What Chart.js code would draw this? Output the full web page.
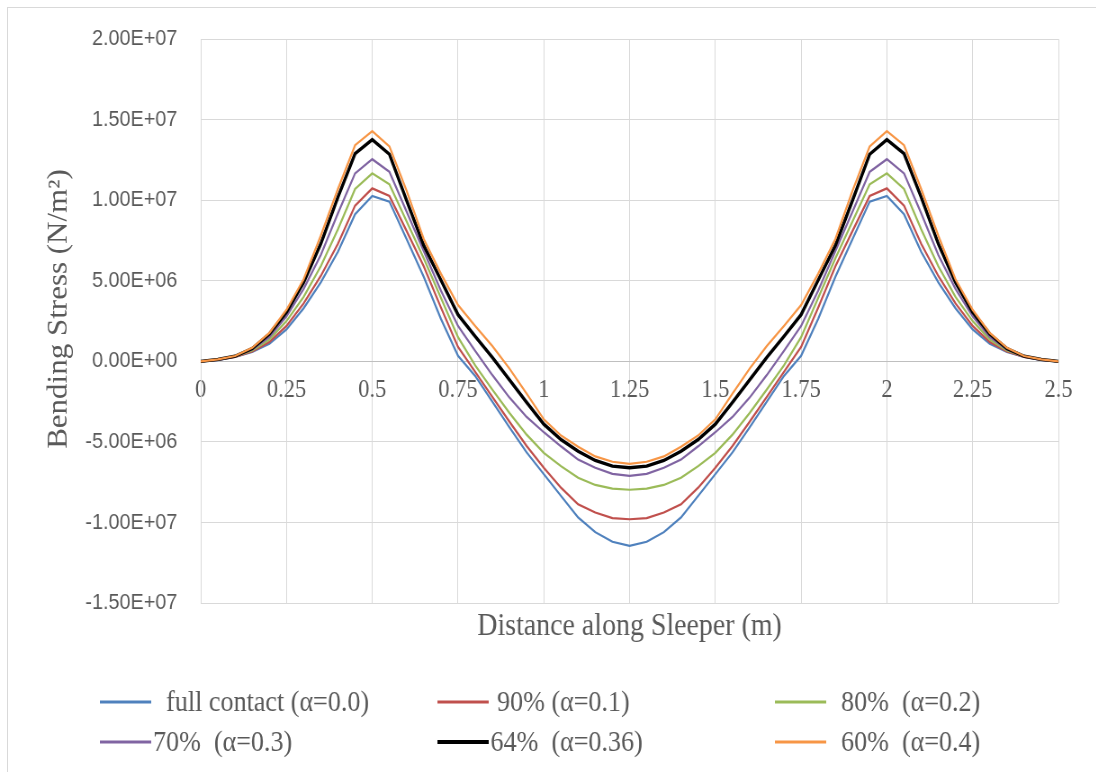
<!DOCTYPE html>
<html>
<head>
<meta charset="utf-8">
<title>Bending stress along sleeper</title>
<script src="https://cdn.jsdelivr.net/npm/chart.js@4.4.1/dist/chart.umd.min.js"></script>
<style>
  html, body { margin:0; padding:0; background:#fff; overflow:hidden; width:1096px; height:772px; }
  .frame { position:absolute; left:7px; top:7px; width:1200px; height:900px; border:1px solid #D9D9D9; box-sizing:border-box; }
  /* the source picture is squeezed a little horizontally, so is the canvas */
  #chart { position:absolute; left:0; top:0; transform:scaleX(0.9); transform-origin:0 0; }
</style>
</head>
<body>
<div class="frame"></div>
<canvas id="chart" width="1218" height="772"></canvas>
<script>
(function(){
  // distance along sleeper (m)
  const distance = [0, 0.05, 0.1, 0.15, 0.2, 0.25, 0.3, 0.35, 0.4, 0.45, 0.5, 0.55, 0.6, 0.65, 0.7, 0.75, 0.8, 0.85, 0.9, 0.95,
    1, 1.05, 1.1, 1.15, 1.2, 1.25, 1.3, 1.35, 1.4, 1.45, 1.5, 1.55, 1.6, 1.65, 1.7, 1.75, 1.8, 1.85, 1.9, 1.95,
    2, 2.05, 2.1, 2.15, 2.2, 2.25, 2.3, 2.35, 2.4, 2.45, 2.5];

  // bending stress, in units of 1e6 N/m2
  const fullContact = [0, 0.08, 0.27, 0.58, 1.09, 1.98, 3.3, 4.9, 6.8, 9.14, 10.27, 9.92, 7.6, 5.25, 2.65, 0.35, -0.9, -2.5, -4.1, -5.65,
    -7.0, -8.35, -9.69, -10.6, -11.2, -11.45, -11.2, -10.6, -9.69, -8.35, -7.0, -5.65, -4.1, -2.5, -0.9, 0.35, 2.65, 5.25, 7.6, 9.92,
    10.27, 9.14, 6.8, 4.9, 3.3, 1.98, 1.09, 0.58, 0.27, 0.08, 0];
  const contact90 = [0, 0.09, 0.28, 0.62, 1.2, 2.2, 3.6, 5.3, 7.3, 9.67, 10.74, 10.27, 8.1, 5.9, 3.35, 0.9, -0.65, -2.2, -3.75, -5.25,
    -6.6, -7.84, -8.87, -9.38, -9.73, -9.8, -9.73, -9.38, -8.87, -7.84, -6.6, -5.25, -3.75, -2.2, -0.65, 0.9, 3.35, 5.9, 8.1, 10.27,
    10.74, 9.67, 7.3, 5.3, 3.6, 2.2, 1.2, 0.62, 0.28, 0.09, 0];
  const contact80 = [0, 0.1, 0.3, 0.68, 1.35, 2.5, 4.0, 5.9, 8.2, 10.7, 11.67, 10.99, 8.7, 6.4, 3.95, 1.5, -0.25, -1.75, -3.2, -4.55,
    -5.68, -6.5, -7.22, -7.67, -7.9, -7.97, -7.9, -7.67, -7.22, -6.5, -5.68, -4.55, -3.2, -1.75, -0.25, 1.5, 3.95, 6.4, 8.7, 10.99,
    11.67, 10.7, 8.2, 5.9, 4.0, 2.5, 1.35, 0.68, 0.3, 0.1, 0];
  const contact70 = [0, 0.11, 0.31, 0.74, 1.5, 2.8, 4.5, 6.6, 9.2, 11.67, 12.55, 11.77, 9.3, 6.85, 4.4, 2.2, 0.65, -0.85, -2.25, -3.45,
    -4.4, -5.27, -6.1, -6.6, -6.98, -7.11, -6.98, -6.6, -6.1, -5.27, -4.4, -3.45, -2.25, -0.85, 0.65, 2.2, 4.4, 6.85, 9.3, 11.77,
    12.55, 11.67, 9.2, 6.6, 4.5, 2.8, 1.5, 0.74, 0.31, 0.11, 0];
  const contact64 = [0, 0.12, 0.32, 0.8, 1.7, 3.05, 4.9, 7.3, 10.2, 12.9, 13.77, 12.86, 10.0, 7.2, 5.05, 2.9, 1.55, 0.25, -1.15, -2.55,
    -3.9, -4.85, -5.58, -6.15, -6.5, -6.6, -6.5, -6.15, -5.58, -4.85, -3.9, -2.55, -1.15, 0.25, 1.55, 2.9, 5.05, 7.2, 10.0, 12.86,
    13.77, 12.9, 10.2, 7.3, 4.9, 3.05, 1.7, 0.8, 0.32, 0.12, 0];
  const contact60 = [0, 0.12, 0.33, 0.84, 1.77, 3.2, 5.1, 7.8, 10.7, 13.42, 14.3, 13.35, 10.6, 7.6, 5.45, 3.5, 2.2, 0.95, -0.45, -2.0,
    -3.6, -4.6, -5.3, -5.9, -6.23, -6.36, -6.23, -5.9, -5.3, -4.6, -3.6, -2.0, -0.45, 0.95, 2.2, 3.5, 5.45, 7.6, 10.6, 13.35,
    14.3, 13.42, 10.7, 7.8, 5.1, 3.2, 1.77, 0.84, 0.33, 0.12, 0];

  const seriesLabels = ['  full contact (\u03b1=0.0)', ' 90% (\u03b1=0.1)', '  80%  (\u03b1=0.2)', '70%  (\u03b1=0.3)', '64%  (\u03b1=0.36)', '  60%  (\u03b1=0.4)'];
  const seriesValues = [fullContact, contact90, contact80, contact70, contact64, contact60];
  const seriesColors = ['#4F81BD', '#C0504D', '#9BBB59', '#8064A2', '#000000', '#F79646'];
  const seriesWidths = [2.2, 2.2, 2.2, 2.2, 3.4, 2.2];

  const yMin = -1.5e7, yMax = 2e7, yStep = 5e6;
  const xMin = 0, xMax = 2.5, xStep = 0.25;
  const xTitle = 'Distance along Sleeper (m)';
  const yTitle = 'Bending Stress (N/m\u00b2)';

  const TEXT = '#595959';
  const GRID = '#D9D9D9';
  const SERIF = '"Liberation Serif", "Times New Roman", serif';

  function sci(v){
    if (v === 0) return '0.00E+00';
    const e = Math.floor(Math.log10(Math.abs(v)) + 1e-9);
    const m = v / Math.pow(10, e);
    return m.toFixed(2) + 'E' + (e < 0 ? '-' : '+') + String(Math.abs(e)).padStart(2, '0');
  }

  const datasets = seriesValues.map((vals, i) => ({
    label: seriesLabels[i],
    data: vals.map((v, k) => ({ x: distance[k], y: v * 1e6 })),
    borderColor: seriesColors[i],
    backgroundColor: seriesColors[i],
    borderWidth: seriesWidths[i],
    pointRadius: 0,
    tension: 0,
    fill: false,
    order: seriesValues.length - i
  }));

  // axis titles + legend grid, like the excel layout
  const extras = {
    id: 'extras',
    afterDraw(chart){
      const { ctx, chartArea } = chart;
      ctx.save();
      ctx.fillStyle = TEXT;
      ctx.font = '31px ' + SERIF;
      ctx.textAlign = 'center';
      ctx.textBaseline = 'middle';
      ctx.fillText(xTitle, (chartArea.left + chartArea.right) / 2, 627);

      ctx.save();
      ctx.translate(66, 309);
      ctx.rotate(-Math.PI / 2);
      ctx.fillText(yTitle, 0, 0);
      ctx.restore();

      const colX = [111, 486, 861];
      const rowY = [702, 742];
      const lineLen = 57;
      ctx.font = '29px ' + SERIF;
      ctx.textAlign = 'left';
      chart.data.datasets.forEach((ds, i) => {
        const x = colX[i % 3], y = rowY[Math.floor(i / 3)];
        ctx.strokeStyle = ds.borderColor;
        ctx.lineWidth = ds.borderWidth + 0.6;
        ctx.beginPath(); ctx.moveTo(x, y); ctx.lineTo(x + lineLen, y); ctx.stroke();
        ctx.fillStyle = TEXT;
        ctx.fillText(ds.label, x + lineLen + 2, y + 1);
      });
      ctx.restore();
    }
  };

  new Chart(document.getElementById('chart'), {
    type: 'line',
    data: { datasets },
    options: {
      responsive: false,
      animation: false,
      layout: { padding: { left: 47, right: 42, top: 37, bottom: 169 } },
      plugins: { legend: { display: false }, tooltip: { enabled: false } },
      scales: {
        x: {
          type: 'linear',
          position: { y: 0 },
          min: xMin, max: xMax,
          grid: { color: GRID, lineWidth: 1, drawTicks: false },
          border: { color: '#BFBFBF', width: 1 },
          ticks: {
            stepSize: xStep,
            padding: 14,
            color: TEXT,
            maxRotation: 0,
            autoSkip: false,
            font: { family: SERIF, size: 25 },
            callback: v => String(Number(v.toFixed(2)))
          }
        },
        y: {
          type: 'linear',
          position: 'left',
          min: yMin, max: yMax,
          afterFit(scale){ scale.width = 176; },
          grid: { color: GRID, lineWidth: 1, drawTicks: false },
          border: { color: GRID, width: 1 },
          ticks: {
            stepSize: yStep,
            padding: 26,
            color: TEXT,
            font: { family: '"Liberation Sans", Arial, sans-serif', size: 22 },
            callback: v => sci(v)
          }
        }
      }
    },
    plugins: [extras]
  });
})();
</script>
</body>
</html>
